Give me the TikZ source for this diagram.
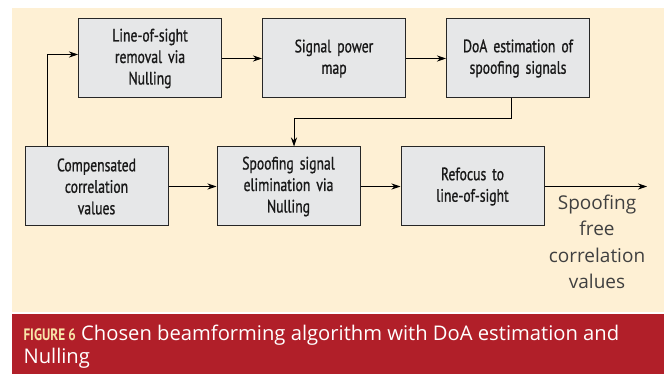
\documentclass[tikz,border=0pt]{standalone}
\usepackage{fontspec}
\usepackage{xcolor}
\usepackage{tikz}
\usetikzlibrary{arrows.meta, positioning, calc}
\setmainfont{PT Sans}
\newfontfamily\boxfont[FakeStretch=0.76, FakeBold=0.9]{PT Sans}
\newfontfamily\capfont{Open Sans}
\newfontfamily\figfont[FakeStretch=0.80]{PT Sans Bold}
\definecolor{cream}{HTML}{FEF0D4}
\definecolor{boxgray}{HTML}{E6E7E8}
\definecolor{capred}{HTML}{B11F29}
\definecolor{figyellow}{HTML}{F8E4A8}
\tikzstyle{block} = [rectangle, minimum width=143pt, minimum height=79pt, text width=130pt, align=center, draw=black!85, line width=1pt, fill=boxgray, font=\boxfont\fontsize{18}{21.5}\selectfont, text=black!90]
\tikzstyle{arrow} = [line width=0.9pt, -{Stealth[length=9pt, width=6pt]}]

\begin{document}
\begin{tikzpicture}[x=1pt, y=-1pt]
        \useasboundingbox (0,0) rectangle (664,374);
        \fill[cream] (12,8) rectangle (664,312);
        \fill[capred] (12,314) rectangle (664,374);
        % upper row
        \node[block] (los) at (150,58.5) {Line-of-sight\\removal via\\Nulling};
        \node[block] (power) at (334,58.5) {Signal power\\map};
        \node[block] (doa) at (518,58.5) {DoA estimation of\\spoofing signals};
        % lower row
        \node[block] (comp) at (96.5,186.5) {Compensated\\correlation\\values};
        \node[block] (elim) at (288.5,186.5) {Spoofing signal\\elimination via\\Nulling};
        \node[block] (refocus) at (472.5,186.5) {Refocus to\\line-of-sight};
        \node[align=center, font=\capfont\fontsize{19}{26.5}\selectfont, text=black!75] (out) at (597,242) {Spoofing\\free\\correlation\\values};
        \coordinate (end) at (647,186.5);
        \coordinate (turn) at (511,118);
        % connectors
        \draw[arrow] (comp.north -| 47,0) |- ([yshift=4pt]los.west);
        \draw[arrow] (los) -- (power);
        \draw[arrow] (power) -- (doa);
        \draw[arrow] (doa.south -| turn) -- (turn) -| (294,0 |- elim.north);
        \draw[arrow] (comp) -- (elim);
        \draw[arrow] (elim) -- (refocus);
        \draw[arrow] (refocus) -- (end);
        % caption
        \node[anchor=base west, font=\capfont\fontsize{20.2}{23}\selectfont, text=white] (cap1) at (20,340) {{\figfont\fontsize{16.5}{20}\selectfont\color{figyellow}FIGURE 6} Chosen beamforming algorithm with DoA estimation and};
        \node[anchor=base west, font=\capfont\fontsize{20.2}{23}\selectfont, text=white] (cap2) at (20,363) {Nulling};
    \end{tikzpicture}
\end{document}
